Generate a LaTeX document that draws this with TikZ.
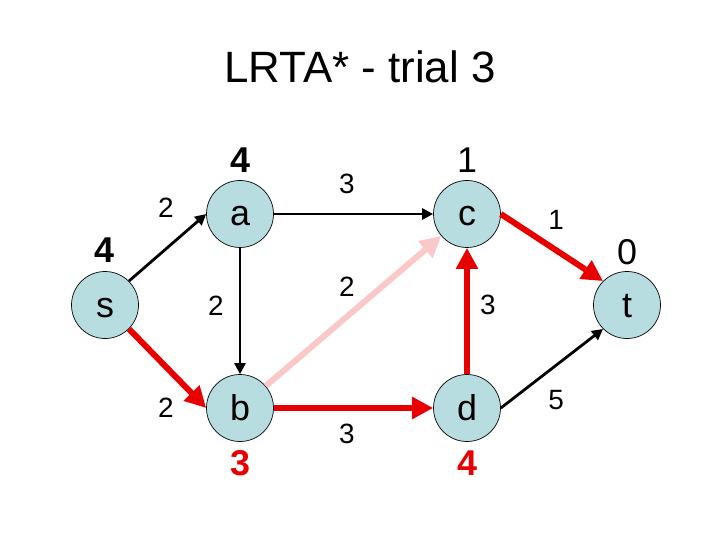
\documentclass[tikz,border=0pt]{standalone}
\usepackage{fontspec}
\setmainfont{Liberation Sans}
\usepackage{tikz}
\usetikzlibrary{arrows.meta}
\definecolor{stateblue}{RGB}{183,221,224}
\definecolor{pathred}{RGB}{232,0,0}
\definecolor{oldpink}{RGB}{250,200,200}

\begin{document}
\begin{tikzpicture}[x=1bp,y=-1bp,
    state/.style={circle,draw=black,line width=0.7bp,fill=stateblue,minimum size=67bp,
        inner sep=0pt,text height=24bp,text depth=0pt,font=\fontsize{36}{40}\selectfont},
    hval/.style={inner sep=0pt,font=\fontsize{36}{40}\selectfont},
    hnew/.style={hval,text=pathred,font=\fontsize{36}{40}\selectfont\bfseries},
    cost/.style={inner sep=0pt,font=\fontsize{28}{30}\selectfont},
    plain/.style={line width=2.8bp,-{Triangle[length=11bp,width=11bp]}},
    trail/.style={line width=6bp,draw=pathred,-{Triangle[length=21bp,width=21bp]}},
    stale/.style={trail,draw=oldpink}]
                \useasboundingbox (0,0) rectangle (720,540);
                \node[inner sep=0pt,font=\fontsize{44}{48}\selectfont] (title) at (360,67) {LRTA* - trial 3};
                % states
                \node[state] (s) at (105,305) {s};
                \node[state] (a) at (240,214) {a};
                \node[state] (b) at (240,408) {b};
                \node[state] (c) at (467,214) {c};
                \node[state] (d) at (467,408) {d};
                \node[state] (t) at (627,305) {t};
                % heuristic values
                \node[hval,font=\fontsize{36}{40}\selectfont\bfseries] (hs) at (104,250) {4};
                \node[hval,font=\fontsize{36}{40}\selectfont\bfseries] (ha) at (240,160) {4};
                \node[hval] (hc) at (467,160) {1};
                \node[hval] (ht) at (627,252) {0};
                \node[hnew] (hb) at (240,463) {3};
                \node[hnew] (hd) at (467,463) {4};
                % edges
                \draw[plain] (s.45) -- (a.west);
                \draw[plain] (a) -- (c);
                \draw[plain] (a) -- (b);
                \draw[plain] (d.east) -- (t.south west);
                \draw[stale] (b) -- (c);
                \draw[trail] (s.-45) -- (b.west);
                \draw[trail] (b) -- (d);
                \draw[trail] (d) -- (c);
                \draw[trail] (c.east) -- (t.north west);
                % costs
                \foreach \Pos/\Cost/\Name in {(166,208)/2/sa, (166,408)/2/sb, (216,306)/2/ab, (347,184)/3/ac,
                    (347,287)/2/bc, (347,434)/3/bd, (488,305)/3/dc, (556,220)/1/ct, (556,400)/5/dt}
                \node[cost] (w\Name) at \Pos {\Cost};
            \end{tikzpicture}
\end{document}
